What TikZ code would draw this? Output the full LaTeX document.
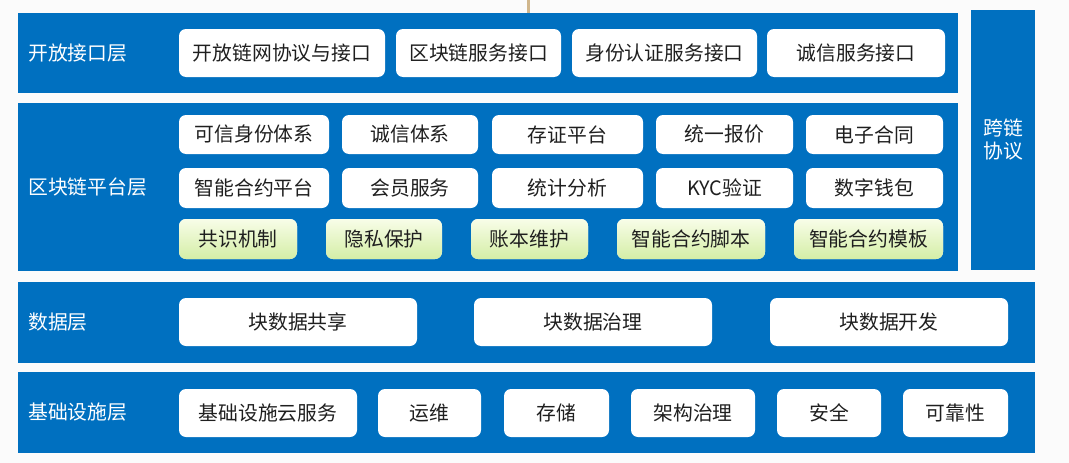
\documentclass[tikz,border=0pt]{standalone}
\usepackage{fontspec}
\setmainfont{Noto Sans CJK SC}
\usepackage{tikz}

\definecolor{layerblue}{RGB}{0,112,192}
\definecolor{paper}{RGB}{251,251,251}
\definecolor{pintan}{RGB}{208,182,140}
\definecolor{greentop}{RGB}{248,253,232}
\definecolor{greenbot}{RGB}{212,238,166}

\begin{document}
\begin{tikzpicture}
  [x=1pt,y=-1pt,
   layer/.style={fill=layerblue, inner sep=0pt, anchor=center},
   layername/.style={anchor=west, text=white, inner sep=0pt, font=\fontsize{19.8}{23}\selectfont},
   wbox/.style={fill=white, rounded corners=7pt, inner sep=0pt, text=black!88, font=\fontsize{19.8}{23}\selectfont},
   gbox/.style={wbox, top color=greentop, bottom color=greenbot}]
  \useasboundingbox[fill=paper] (0,0) rectangle (1069,463);

  % layers
  \node[layer, minimum width=940pt, minimum height=80pt] (open) at (488,53) {};
  \node[layer, minimum width=940pt, minimum height=168pt] (plat) at (488,187) {};
  \node[layer, minimum width=64pt, minimum height=260pt] (cross) at (1003,140) {};
  \node[layer, minimum width=1017pt, minimum height=81pt] (data) at (526.5,322.5) {};
  \node[layer, minimum width=1017pt, minimum height=81pt] (infra) at (526.5,412.5) {};

  \node[layername] (openlbl) at (28,53) {开放接口层};
  \node[layername] (platlbl) at (28,187) {区块链平台层};
  \node[layername] (datalbl) at (28,322) {数据层};
  \node[layername] (infralbl) at (28,412) {基础设施层};
  \node[layername, anchor=center, align=center] (crosslbl) at (cross) {跨链\\协议};

  % open interface layer
  \foreach \nm/\cx/\bw/\txt in {o1/282/206/开放链网协议与接口, o2/478.5/165/区块链服务接口,
      o3/664.5/185/身份认证服务接口, o4/856/178/诚信服务接口}
    \node[wbox, minimum width=\bw pt, minimum height=48pt] (\nm) at (\cx,53) {\txt};

  % platform layer
  \foreach \nm/\cx/\bw/\txt in {p1/254/150/可信身份体系, p2/410/136/诚信体系, p3/567.5/151/存证平台,
      p4/724.5/137/统一报价, p5/874.5/137/电子合同}
    \node[wbox, minimum width=\bw pt, minimum height=39pt] (\nm) at (\cx,134.5) {\txt};
  \foreach \nm/\cx/\bw/\txt in {q1/254/150/智能合约平台, q2/410/136/会员服务, q3/567.5/151/统计分析,
      q4/724.5/137/KYC验证, q5/874.5/137/数字钱包}
    \node[wbox, minimum width=\bw pt, minimum height=40pt] (\nm) at (\cx,188) {\txt};
  \foreach \nm/\cx/\bw/\txt in {g1/238/118/共识机制, g2/384/116/隐私保护, g3/529.5/117/账本维护,
      g4/691/148/智能合约脚本, g5/868.5/149/智能合约模板}
    \node[gbox, minimum width=\bw pt, minimum height=40pt] (\nm) at (\cx,239) {\txt};

  % data layer
  \foreach \nm/\cx/\txt in {d1/298/块数据共享, d2/593/块数据治理, d3/889/块数据开发}
    \node[wbox, minimum width=238pt, minimum height=48pt] (\nm) at (\cx,322) {\txt};

  % infrastructure layer
  \foreach \nm/\cx/\bw/\txt in {i1/268/178/基础设施云服务, i2/429.5/103/运维, i3/556.5/105/存储,
      i4/693/124/架构治理, i5/829/104/安全, i6/955.5/105/可靠性}
    \node[wbox, minimum width=\bw pt, minimum height=48pt] (\nm) at (\cx,413) {\txt};

  \coordinate (pin) at (528,0);
  \draw[pintan, line width=3pt] (pin) -- (pin |- open.north);

\end{tikzpicture}
\end{document}
